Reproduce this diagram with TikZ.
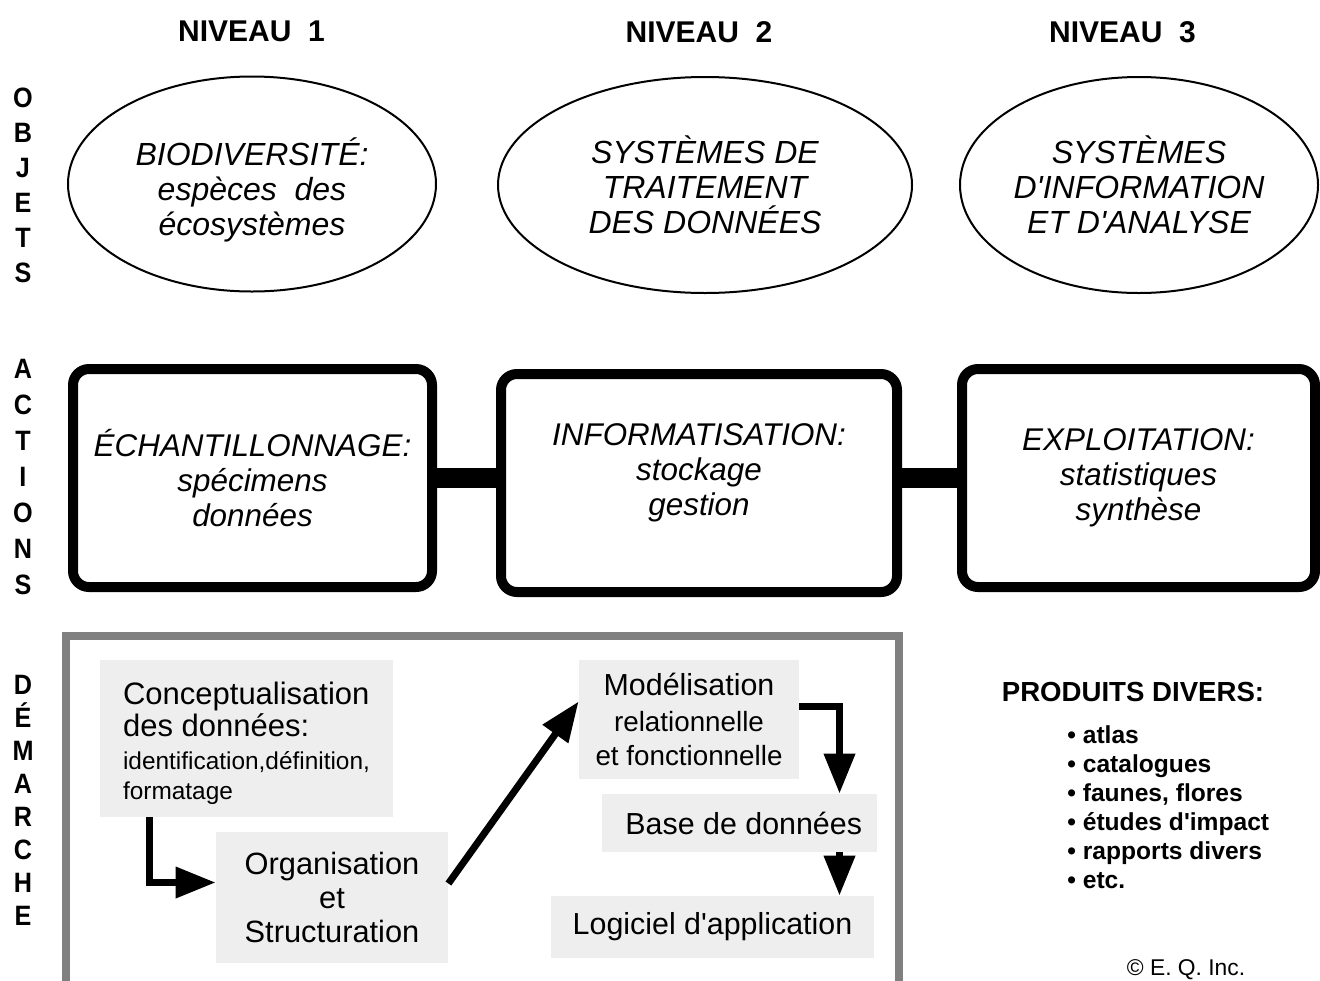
\documentclass[tikz,border=0pt]{standalone}
\usepackage{fontspec}
\setmainfont{Liberation Sans}
\newfontfamily\narrowfont[FakeStretch=0.9]{Liberation Sans}
\usetikzlibrary{shapes.geometric,arrows.meta,calc}
\definecolor{boxgray}{HTML}{EEEEEE}
\definecolor{framegray}{HTML}{808080}
\newcommand\apos{\textquotesingle}
\begin{document}
\begin{tikzpicture}[x=0.5pt,y=-0.5pt,
  lvl/.style={font=\bfseries\fontsize{15}{18}\selectfont, inner sep=0},
  side/.style={font=\narrowfont\bfseries\fontsize{14}{#1}\selectfont, align=center, inner sep=0},
  obj/.style={draw, line width=1pt, ellipse, inner sep=0, align=center,
    font=\itshape\fontsize{16}{17.5}\selectfont},
  act/.style={draw, line width=5pt, rounded corners=8pt, align=center, inner sep=0,
    font=\itshape\fontsize{15.7}{17.5}\selectfont, minimum height=109pt},
  bar/.style={line width=10pt},
  greybox/.style={fill=boxgray, inner sep=0, align=center},
  bigarrow/.style={line width=3.5pt, -{Triangle[length=20pt,width=15pt]}},
]
\useasboundingbox (0,0) rectangle (1320,980);

% level headers
\node[lvl] (n1) at (251.5,31) {NIVEAU\ \ 1};
\node[lvl] (n2) at (699,32) {NIVEAU\ \ 2};
\node[lvl] (n3) at (1122.5,32) {NIVEAU\ \ 3};

% side labels
\node[side=17.5pt] (sobj) at (23,185.5) {O\\B\\J\\E\\T\\S};
\node[side=18pt] (sact) at (23,476.5) {A\\C\\T\\I\\O\\N\\S};
\node[side=16.5pt] (sdem) at (23,800.5) {D\\É\\M\\A\\R\\C\\H\\E};

% objects (ellipses)
\node[obj, minimum width=184pt, minimum height=107.5pt, text height=54.5pt] (e1) at (252,184)
  {BIODIVERSITÉ:\\espèces\ \ des\\écosystèmes};
\node[obj, minimum width=207pt, minimum height=108pt] (e2) at (705,185)
  {SYSTÈMES DE\\TRAITEMENT\\DES DONNÉES};
\node[obj, minimum width=179pt, minimum height=108pt] (e3) at (1139,185)
  {SYSTÈMES\\D\apos INFORMATION\\ET D\apos ANALYSE};

% actions (rounded boxes)
\node[act, minimum width=179.5pt] (b1) at (252.5,478)
  {ÉCHANTILLONNAGE:\\spécimens\\données};
\node[act, minimum width=198pt, text depth=13pt] (b2) at (699,483)
  {INFORMATISATION:\\stockage\\gestion};
\node[act, minimum width=176.5pt] (b3) at (1138.5,478)
  {EXPLOITATION:\\statistiques\\synthèse};
\draw[bar] (b1.east) -- (b1.east -| b2.west);
\draw[bar] (b2.east |- b3.west) -- (b3.west);

% demarche frame
\draw[framegray, line width=4pt] (66,990) -- (66,636) -- (899,636) -- (899,990);

% process boxes
\node[greybox, align=left, minimum width=146.5pt, minimum height=78.5pt, text height=64pt,
  font=\fontsize{15.5}{15}\selectfont] (c1) at (246.5,738.5)
  {Conceptualisation\\[1pt]des données:\\[1.5pt]
   {\fontsize{12.2}{15}\selectfont identification,définition,}\\
   {\fontsize{12.2}{15}\selectfont formatage}};
\node[greybox, minimum width=116pt, minimum height=65.5pt, font=\fontsize{15.4}{17}\selectfont] (o1) at (332,897.5)
  {Organisation\\et\\Structuration};
\node[greybox, minimum width=110pt, minimum height=59.5pt, font=\fontsize{15.2}{17}\selectfont] (m1) at (689,719.5)
  {Modélisation\\[1pt]{\fontsize{13.9}{17}\selectfont relationnelle}\\
   {\fontsize{13.9}{17}\selectfont et fonctionnelle}};
\node[greybox, minimum width=137.5pt, minimum height=29pt, font=\fontsize{15.2}{17}\selectfont] (bd) at (739.5,823)
  {\ Base de données};
\node[greybox, minimum width=161.5pt, minimum height=31pt, font=\fontsize{15.2}{17}\selectfont] (lg) at (712.5,927)
  {Logiciel d\apos application};

% arrows
\coordinate (a1) at ($(c1.south west)+(50,0)$);
\draw[bigarrow] (a1) |- ($(o1.west)+(0,-15)$);
\draw[bigarrow] ($(o1.east)+(0,-14)$) -- ($(m1.west)+(0,-18)$);
\coordinate (a3) at ($(bd.north)+(100,0)$);
\draw[bigarrow] ($(m1.east)+(0,-13)$) -| (a3);
\coordinate (a4) at ($(bd.south)+(100,0)$);
\draw[bigarrow] (a4) -- (a4 |- lg.north);

% products
\node[font=\bfseries\fontsize{13.8}{16}\selectfont, inner sep=0] (pd) at (1133,692) {PRODUITS DIVERS:};
\node[anchor=west, align=left, inner sep=0, font=\bfseries\fontsize{12.3}{14.5}\selectfont] (pl) at (1067,807.5)
  {• atlas\\• catalogues\\• faunes, flores\\• études d\apos impact\\• rapports divers\\• etc.};
\node[inner sep=0, font=\fontsize{11.4}{13}\selectfont] (cr) at (1186,970) {© E. Q. Inc.};
\end{tikzpicture}
\end{document}
